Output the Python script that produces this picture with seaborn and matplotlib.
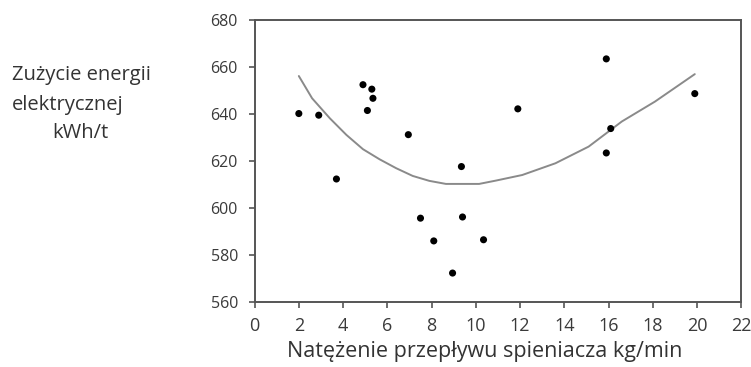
import numpy as np
import pandas as pd
import seaborn as sns
import matplotlib.pyplot as plt

# measured points (flow rate kg/min, energy kWh/t)
flow = [2.0, 2.9, 3.7, 4.9, 5.3, 5.35, 5.1, 6.95, 9.35,
        7.5, 8.1, 9.4, 8.95, 10.35, 15.9, 11.9, 19.9, 16.1, 15.9]
energy = [640.2, 639.5, 612.3, 652.5, 650.6, 646.7, 641.5, 631.2, 617.6,
          595.6, 585.9, 596.1, 572.2, 586.4, 663.5, 642.2, 648.7, 633.8, 623.4]

# trend line
trend_x = [2.0, 2.6, 3.4, 4.15, 4.9, 5.65, 6.4, 7.15, 7.9, 8.65, 9.4, 10.15,
           10.9, 12.1, 13.6, 15.1, 15.9, 16.6, 18.1, 19.9]
trend_y = [656.2, 646.7, 638.2, 631.1, 625.0, 620.7, 616.9, 613.6, 611.5, 610.2,
           610.2, 610.2, 611.6, 614.0, 619.0, 626.1, 631.8, 636.8, 645.3, 657.0]

x_ticks = list(range(0, 23, 2))
y_ticks = list(range(560, 681, 20))

sns.set_style("white")
plt.rcParams['font.family'] = ['Open Sans', 'DejaVu Sans']

fig = plt.figure(figsize=(7.51, 3.67), dpi=100)
ax = fig.add_axes([0.339, 0.178, 0.648, 0.767])

pts = pd.DataFrame({'x': flow, 'y': energy})
trend = pd.DataFrame({'x': trend_x, 'y': trend_y})

sns.lineplot(data=trend, x='x', y='y', ax=ax, color='#8a8a8a', linewidth=1.4, sort=False)
sns.scatterplot(data=pts, x='x', y='y', ax=ax, color='black', s=26, edgecolor='none', zorder=3)

ax.set_xlim(0, 22)
ax.set_ylim(560, 680)
ax.set_xticks(x_ticks)
ax.set_yticks(y_ticks)
ax.tick_params(axis='both', direction='out', length=4, width=1.2, color='#555555',
               labelcolor='#3a3a3a', bottom=True, left=True)
ax.tick_params(axis='x', labelsize=13, pad=7)
ax.tick_params(axis='y', labelsize=11.5, pad=8)
for s in ax.spines.values():
    s.set_color('#555555')
    s.set_linewidth(1.4)

ax.set_xlabel('Natężenie przepływu spieniacza kg/min', fontsize=15.5, color='#333333')
ax.xaxis.set_label_coords(0.472, -0.14)
ax.set_ylabel('')
fig.text(0.016, 0.796, 'Zużycie energii', ha='left', va='center', fontsize=14.5, color='#333333')
fig.text(0.016, 0.714, 'elektrycznej', ha='left', va='center', fontsize=14.5, color='#333333')
fig.text(0.107, 0.638, 'kWh/t', ha='center', va='center', fontsize=14.5, color='#333333')

plt.savefig('out.png', dpi=100)
